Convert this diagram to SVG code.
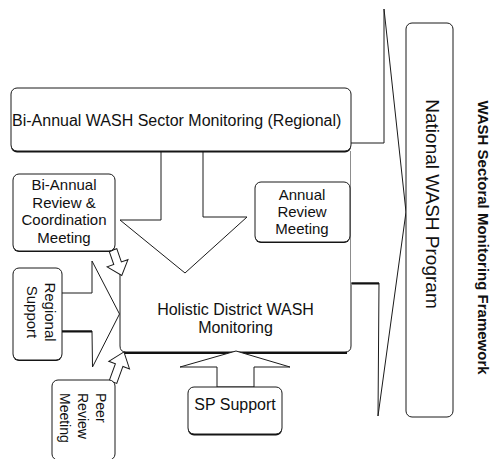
<svg xmlns="http://www.w3.org/2000/svg" width="492" height="459" viewBox="0 0 492 459">
  <style>
    .box { fill: #fff; stroke: #1a1a1a; stroke-width: 1; }
    .shade { fill: #111; stroke: none; }
    .edge { fill: none; stroke: #1a1a1a; stroke-width: 1; }
    .blk { fill: #fff; stroke: #1a1a1a; stroke-width: 1; stroke-linejoin: miter; }
    .heavy { fill: none; stroke: #111; stroke-width: 2; }
    text { font-family: "Liberation Sans", Arial, sans-serif; fill: #111; }
    .lg { font-size: 16px; }
    .md { font-size: 15px; }
    .sm { font-size: 14px; }
    .mid { text-anchor: middle; }
  </style>

  <rect width="492" height="459" fill="#fff"/>

  <!-- district level box, partly hidden behind the regional items -->
  <g id="holistic">
    <rect x="120" y="151" width="231" height="201" fill="#fff"/>
    <path class="edge" d="M120,272 V346 Q120,352 126,352 H345 Q351,352 351,346 V151"/>
    <line class="heavy" x1="124" y1="353" x2="347" y2="353"/>
    <text class="lg mid" x="235.5" y="315">Holistic District WASH</text>
    <text class="lg mid" x="235.5" y="333">Monitoring</text>
  </g>

  <g id="connectors">
    <!-- large block arrow into the national programme -->
    <polygon points="351,143 384,143 384,9 406,212 378,416 379,283 351,283" fill="#fff" stroke="none"/>
    <polyline class="edge" points="351,143 384,143 384,9 406,212 378,416 379,283 351,283"/>
    <line class="heavy" x1="352" y1="283.5" x2="379" y2="283.5"/>
    <!-- regional monitoring down into the district -->
    <polygon class="blk" points="161,151 161,220 120,220 185,273 247,217 203,217 203,151"/>
    <!-- regional support into the district -->
    <polygon class="blk" points="61,293 92,293 92,261 119.5,314 92.5,367 92,331 61,331"/>
    <line class="heavy" x1="61" y1="331.5" x2="92" y2="331.5"/>
    <!-- review meeting into the district -->
    <polygon class="blk" transform="translate(113,250) rotate(-19)" points="-4,0 -4,14 -11,14 0,27 11,14 4,14 4,0"/>
    <!-- peer review into the district -->
    <polygon class="blk" transform="translate(113,382) rotate(200)" points="-4,0 -4,18 -11,18 0,32 11,18 4,18 4,0"/>
    <!-- service provider support up into the district -->
    <polygon class="blk" points="217,387 217,367 180,367 236,351 290,367 254,367 254,387"/>
  </g>

  <g id="regional-monitoring">
    <rect class="shade" x="11" y="89.5" width="340" height="63" rx="6"/>
    <rect class="box" x="11" y="88" width="340" height="63" rx="6"/>
    <text class="lg" x="12" y="126">Bi-Annual WASH Sector Monitoring (Regional)</text>
  </g>

  <g id="annual-review">
    <rect class="shade" x="255" y="183" width="95" height="60" rx="6"/>
    <rect class="box" x="255" y="182" width="95" height="60" rx="6"/>
    <text class="md mid" x="302" y="200">Annual</text>
    <text class="md mid" x="302" y="217">Review</text>
    <text class="md mid" x="302" y="234">Meeting</text>
  </g>

  <g id="biannual-review">
    <rect class="shade" x="13" y="175" width="102" height="77" rx="6"/>
    <rect class="box" x="13" y="174" width="102" height="77" rx="6"/>
    <text class="md mid" x="64" y="190">Bi-Annual</text>
    <text class="md mid" x="64" y="207.5">Review &amp;</text>
    <text class="md mid" x="64" y="225">Coordination</text>
    <text class="md mid" x="64" y="242.5">Meeting</text>
  </g>

  <g id="regional-support">
    <rect class="shade" x="13" y="269" width="49" height="92" rx="6"/>
    <rect class="box" x="13" y="268" width="49" height="92" rx="6"/>
    <g transform="translate(45,312) rotate(90)">
      <text class="md mid" x="0" y="0">Regional</text>
      <text class="md mid" x="0" y="18">Support</text>
    </g>
  </g>

  <g id="peer-review">
    <rect class="box" x="52" y="380" width="63" height="80" rx="6"/>
    <g transform="translate(96,393) rotate(90)">
      <text class="sm" x="0" y="0">Peer</text>
      <text class="sm" x="0" y="18">Review</text>
      <text class="sm" x="0" y="36">Meeting</text>
    </g>
  </g>

  <g id="sp-support">
    <rect class="shade" x="188" y="388.5" width="94" height="47" rx="6"/>
    <rect class="box" x="188" y="387" width="94" height="47" rx="6"/>
    <text class="lg mid" x="235" y="410">SP Support</text>
  </g>

  <g id="national-program">
    <rect class="box" x="406" y="23" width="47" height="394" rx="6"/>
    <text transform="translate(426,204) rotate(90)" style="font-size:19px" class="mid">National WASH Program</text>
  </g>

  <g id="title">
    <text transform="translate(478,237.5) rotate(90)" style="font-size:15px;font-weight:bold" class="mid">WASH Sectoral Monitoring Framework</text>
  </g>
</svg>
